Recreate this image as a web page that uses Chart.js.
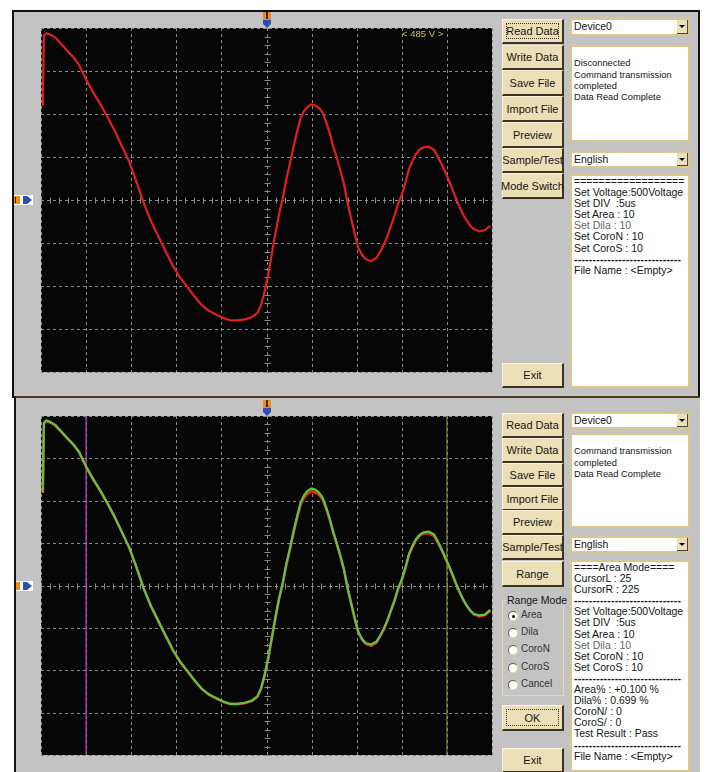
<!DOCTYPE html>
<html><head><meta charset="utf-8">
<script src="https://cdn.jsdelivr.net/npm/chart.js@4"></script>
<style>
body{margin:0;width:707px;height:772px;background:#fff;position:relative;overflow:hidden;font-family:"Liberation Sans",Arial,sans-serif;color:#151515;}
.win{position:absolute;background:#c3c3c3;box-sizing:border-box;}
.cv{position:absolute;}
.btn{position:absolute;background:#ecdeb6;border-top:1px solid #fbf3dc;border-left:1px solid #fbf3dc;border-right:2px solid #3a3322;border-bottom:2px solid #3a3322;box-sizing:border-box;font-size:11px;display:flex;align-items:center;justify-content:center;white-space:nowrap;}
.focus::after{content:"";position:absolute;left:3px;top:3px;right:3px;bottom:3px;border:1px dotted #333;}
.box{position:absolute;background:#fff;border:2px solid #dcc68e;box-sizing:border-box;font-size:10.5px;line-height:11.1px;padding:0 0 0 2px;white-space:pre;overflow:hidden;}
.st{font-size:9.3px;line-height:11.3px;}
.combo{position:absolute;background:#fff;border:2px solid #dcc68e;box-sizing:border-box;font-size:10.5px;line-height:13px;padding-left:2px;}
.combo i{position:absolute;right:0;top:0;width:11px;bottom:0;background:#ecdeb6;border-right:1px solid #444;border-bottom:1px solid #444;box-sizing:border-box;}
.combo i::after{content:"";position:absolute;left:2px;top:5px;border-left:3px solid transparent;border-right:3px solid transparent;border-top:3px solid #000;}
.grp{position:absolute;border:1px solid #e8d8a8;box-sizing:border-box;}
.lbl{position:absolute;font-size:10.5px;white-space:nowrap;background:#c3c3c3;}
.rad{position:absolute;width:8px;height:8px;border-radius:50%;background:#fff;border-top:1px solid #6a5c30;border-left:1px solid #6a5c30;border-right:1px solid #e8d8a8;border-bottom:1px solid #e8d8a8;}
.rad.on::after{content:"";position:absolute;left:2.5px;top:2.5px;width:3px;height:3px;border-radius:50%;background:#000;}
.rl{position:absolute;font-size:10px;color:#333;}
.sep{font-weight:bold;letter-spacing:0.2px;}
</style></head>
<body>
<div class="win" style="left:12px;top:10px;width:688px;height:388px;border:2px solid #111;"></div>
<div class="win" style="left:14px;top:396px;width:686px;height:380px;border-left:2px solid #111;border-top:2px solid #4a3c18;"></div>

<div class="cv" style="left:14px;top:12px;"><canvas id="c1" width="483" height="384"></canvas></div>
<div class="cv" style="left:16px;top:398px;"><canvas id="c2" width="481" height="372"></canvas></div>

<!-- top window controls -->
<div class="btn focus" style="left:502px;top:19px;width:62px;height:25px">Read Data</div>
<div class="btn" style="left:502px;top:45px;width:62px;height:25px">Write Data</div>
<div class="btn" style="left:502px;top:70px;width:62px;height:26px">Save File</div>
<div class="btn" style="left:502px;top:96px;width:62px;height:26px">Import File</div>
<div class="btn" style="left:502px;top:122px;width:62px;height:26px">Preview</div>
<div class="btn" style="left:502px;top:148px;width:62px;height:25px">Sample/Test</div>
<div class="btn" style="left:502px;top:173px;width:62px;height:26px">Mode Switch</div>
<div class="btn" style="left:502px;top:363px;width:62px;height:25px">Exit</div>
<div class="combo" style="left:570px;top:18px;width:120px;height:18px">Device0<i></i></div>
<div class="box st" style="left:570px;top:45px;width:120px;height:97px">
Disconnected
Command transmission
completed
Data Read Complete</div>
<div class="combo" style="left:570px;top:151px;width:120px;height:17px">English<i></i></div>
<div class="box" style="left:570px;top:174px;width:120px;height:214px">==================
Set Voltage:500Voltage
Set DIV  :5us
Set Area : 10
<span style="color:#666">Set Dila : 10</span>
Set CoroN : 10
Set CoroS : 10
<span class="sep">-----------------------------</span>
File Name : &lt;Empty&gt;</div>

<!-- bottom window controls -->
<div class="btn" style="left:502px;top:413px;width:62px;height:25px">Read Data</div>
<div class="btn" style="left:502px;top:438px;width:62px;height:25px">Write Data</div>
<div class="btn" style="left:502px;top:463px;width:62px;height:24px">Save File</div>
<div class="btn" style="left:502px;top:487px;width:62px;height:24px">Import File</div>
<div class="btn" style="left:502px;top:510px;width:62px;height:25px">Preview</div>
<div class="btn" style="left:502px;top:535px;width:62px;height:25px">Sample/Test</div>
<div class="btn" style="left:502px;top:561px;width:62px;height:26px">Range</div>
<div class="grp" style="left:502px;top:600px;width:62px;height:96px"></div>
<div class="lbl" style="left:507px;top:594px;">Range Mode</div>
<div class="rad on" style="left:508px;top:611px"></div><div class="rl" style="left:521px;top:609px">Area</div>
<div class="rad" style="left:508px;top:628px"></div><div class="rl" style="left:521px;top:626px">Dila</div>
<div class="rad" style="left:508px;top:645px"></div><div class="rl" style="left:521px;top:643px">CoroN</div>
<div class="rad" style="left:508px;top:663px"></div><div class="rl" style="left:521px;top:661px">CoroS</div>
<div class="rad" style="left:508px;top:680px"></div><div class="rl" style="left:521px;top:678px">Cancel</div>
<div class="btn focus" style="left:502px;top:705px;width:62px;height:26px">OK</div>
<div class="btn" style="left:502px;top:748px;width:62px;height:25px">Exit</div>
<div class="combo" style="left:570px;top:412px;width:120px;height:17px">Device0<i></i></div>
<div class="box st" style="left:570px;top:433px;width:120px;height:95px">
Command transmission
completed
Data Read Complete</div>
<div class="combo" style="left:570px;top:536px;width:120px;height:17px">English<i></i></div>
<div class="box" style="left:570px;top:560px;width:120px;height:212px">====Area Mode====
CursorL : 25
CursorR : 225
<span class="sep">-----------------------------</span>
Set Voltage:500Voltage
Set DIV  :5us
Set Area : 10
<span style="color:#666">Set Dila : 10</span>
Set CoroN : 10
Set CoroS : 10
<span class="sep">-----------------------------</span>
Area% : +0.100 %
Dila% : 0.699 %
CoroN/ : 0
CoroS/ : 0
Test Result : Pass
<span class="sep">-----------------------------</span>
File Name : &lt;Empty&gt;</div>

<script>
// ---- data (sample index, volts) ----
const samplePos = [1,1.6,3,5,8,11,14,18,21,25,29,33,37,41,45,49,53,57,61,65,69,73,77,81,85,89,93,97,101,105,109,113,117,120,122,124,126,128,130,132,134,136,138,140,142,144,146,148,150,152,154,156,158,160,162,164,166,168,170,172,174,176,178,180,183,186,188,190,192,194,196,198,200,202,204,206,208,210,212,215,218,220,222,224,226,228,230,232,234,236,238,240,243,246,249];
const sampleVolts = [273,478,485,481,472,455,437,415,394,350,312,278,240,200,155,110,52,-10,-62,-105,-148,-190,-225,-252,-280,-305,-322,-333,-343,-350,-350,-347,-340,-328,-305,-265,-215,-155,-95,-40,5,60,106,155,200,240,260,272,278,275,268,255,228,195,155,122,85,45,-10,-55,-100,-140,-160,-172,-178,-168,-150,-130,-105,-75,-45,-10,15,50,90,115,135,147,153,155,145,125,105,82,58,32,5,-20,-42,-60,-75,-85,-91,-88,-75];
const testVolts = [275,480,487,483,473,456,438,416,395,351,313,279,241,201,156,111,53,-9,-61,-104,-147,-189,-224,-251,-279,-304,-321,-332,-342,-349,-349,-346,-339,-327,-303,-262,-212,-152,-92,-37,8,64,110,160,205,246,268,280,286,283,275,260,232,198,158,124,87,46,-9,-54,-99,-138,-158,-170,-174,-165,-148,-128,-103,-73,-43,-8,18,53,93,118,138,150,157,159,150,130,108,84,60,34,7,-18,-41,-59,-74,-84,-88,-86,-72];
const xGridTicks = [0,25,50,75,100,125,150,175,200,225,250];
const yGridTicks = [-500,-375,-250,-125,0,125,250,375,500];
const cursorL = 25, cursorR = 225;
const unit = 'V';

function pts(xs, ys){ return xs.map((x,i)=>({x:x, y:ys[i]})); }

const scopePlugin = {
  id:'scope',
  beforeDraw(chart, args, opts){
    const ctx = chart.ctx, a = chart.chartArea, sx = chart.scales.x, sy = chart.scales.y;
    const L = (x1,y1,x2,y2)=>{ctx.beginPath();ctx.moveTo(x1,y1);ctx.lineTo(x2,y2);ctx.stroke();};
    ctx.save();
    ctx.fillStyle='#c3c3c3'; ctx.fillRect(0,0,chart.width,chart.height);
    ctx.fillStyle='#060606'; ctx.fillRect(a.left,a.top,a.right-a.left,a.bottom-a.top);
    ctx.strokeStyle='#8a8a8a'; ctx.lineWidth=1; ctx.setLineDash([3,3]);
    xGridTicks.forEach(v=>{const p=Math.round(sx.getPixelForValue(v))+0.5; L(p,a.top,p,a.bottom);});
    yGridTicks.forEach(v=>{const p=Math.round(sy.getPixelForValue(v))+0.5; L(a.left,p,a.right,p);});
    ctx.setLineDash([]);
    const y0 = Math.round(sy.getPixelForValue(0))+0.5;
    for(let v=xGridTicks[0]; v<=xGridTicks[xGridTicks.length-1]; v+=5){const p=Math.round(sx.getPixelForValue(v))+0.5; const h=(v%25===0)?4:3; L(p,y0-h,p,y0+h);}
    const x0 = Math.round(sx.getPixelForValue(125))+0.5;
    for(let v=yGridTicks[0]; v<=yGridTicks[yGridTicks.length-1]; v+=25){const p=Math.round(sy.getPixelForValue(v))+0.5; const h=(v%125===0)?4:3; L(x0-h,p,x0+h,p);}
    // top trigger marker
    const mx = Math.round(sx.getPixelForValue(125));
    ctx.fillStyle='#f08a1c'; ctx.fillRect(mx-4,a.top-16,8,8);
    ctx.fillStyle='#3a2a10'; ctx.fillRect(mx-1,a.top-16,2,7);
    ctx.fillStyle='#2f4fb0'; ctx.beginPath(); ctx.moveTo(mx-4,a.top-8); ctx.lineTo(mx+4,a.top-8); ctx.lineTo(mx+4,a.top-4); ctx.lineTo(mx,a.top); ctx.lineTo(mx-4,a.top-4); ctx.closePath(); ctx.fill();
    // left level marker
    const my = Math.round(sy.getPixelForValue(0));
    const lx = a.left-27;
    ctx.fillStyle='#fff'; ctx.fillRect(lx,my-5,19,10);
    ctx.fillStyle='#f08a1c'; ctx.fillRect(lx,my-4,6,8);
    ctx.fillStyle='#3a2a10'; ctx.fillRect(lx+1,my-3,1,6);
    ctx.fillStyle='#2f4fb0'; ctx.beginPath(); ctx.moveTo(lx+9,my-4); ctx.lineTo(lx+13,my-4); ctx.lineTo(lx+18,my); ctx.lineTo(lx+13,my+4); ctx.lineTo(lx+9,my+4); ctx.closePath(); ctx.fill();
    if(opts.readout){
      ctx.fillStyle='#c8c83c'; ctx.font='9.5px "Liberation Sans", Arial'; ctx.textBaseline='middle';
      ctx.fillText(opts.readout, a.right-90, a.top+6);
    }
    ctx.restore();
  }
};

function makeScope(id, datasets, pad, readout){
  return new Chart(document.getElementById(id), {
    type:'line',
    data:{datasets:datasets},
    options:{
      responsive:false, animation:false, events:[],
      layout:{padding:pad},
      plugins:{legend:{display:false}, tooltip:{enabled:false}, scope:{readout:readout}},
      elements:{point:{radius:0}, line:{tension:0}},
      scales:{
        x:{type:'linear', min:xGridTicks[0], max:xGridTicks[xGridTicks.length-1], display:false},
        y:{type:'linear', min:yGridTicks[0], max:yGridTicks[yGridTicks.length-1], display:false}
      }
    },
    plugins:[scopePlugin]
  });
}

const peak = Math.max(...sampleVolts);
makeScope('c1', [
  {data:pts(samplePos, sampleVolts), borderColor:'#e41e1e', borderWidth:2.2}
], {left:27, top:16, right:5, bottom:24}, '< ' + peak + ' ' + unit + ' >');

// order: lower value drawn on top
makeScope('c2', [
  {data:pts(samplePos, testVolts), borderColor:'#5cc83a', borderWidth:2.2, order:0},
  {data:pts(samplePos, sampleVolts), borderColor:'#e02a1a', borderWidth:2.6, order:1},
  {data:[{x:cursorL,y:yGridTicks[0]},{x:cursorL,y:yGridTicks[yGridTicks.length-1]}], borderColor:'#c23cc2', borderWidth:1.2, order:2},
  {data:[{x:cursorR,y:yGridTicks[0]},{x:cursorR,y:yGridTicks[yGridTicks.length-1]}], borderColor:'#7f7d2a', borderWidth:1.2, order:3}
], {left:25, top:18, right:5, bottom:15}, null);
</script>
</body></html>
